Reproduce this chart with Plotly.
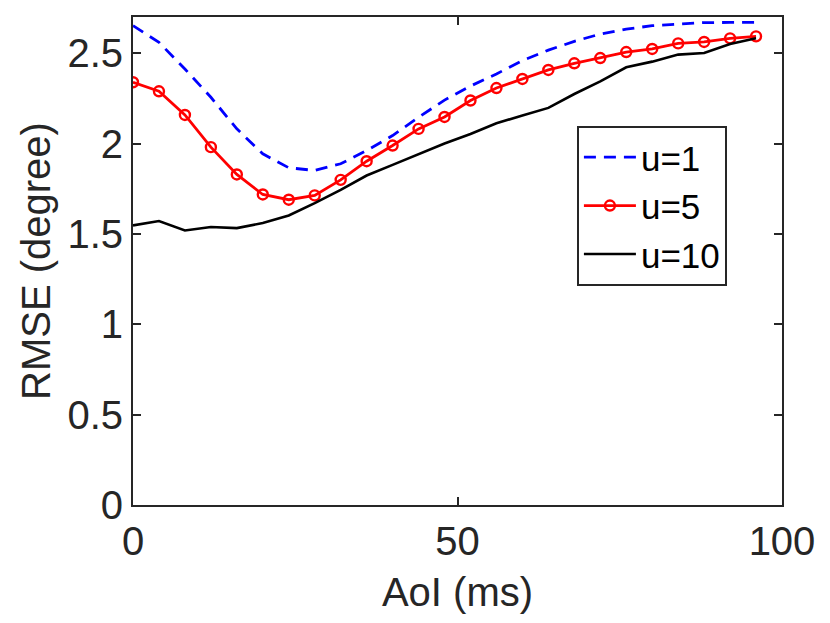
import plotly.graph_objects as go

# AoI sample points (ms)
aoi = [0, 4, 8, 12, 16, 20, 24, 28, 32, 36, 40, 44, 48,
       52, 56, 60, 64, 68, 72, 76, 80, 84, 88, 92, 96]

# RMSE (degree) per u value
rmse_u1 = [2.652, 2.560, 2.412, 2.256, 2.081, 1.943, 1.866, 1.851, 1.888,
           1.961, 2.044, 2.145, 2.240, 2.318, 2.385, 2.459, 2.517, 2.565,
           2.606, 2.633, 2.652, 2.661, 2.669, 2.670, 2.670]
rmse_u5 = [2.339, 2.289, 2.158, 1.980, 1.829, 1.718, 1.689, 1.713, 1.799,
           1.902, 1.989, 2.081, 2.147, 2.238, 2.307, 2.357, 2.407, 2.444,
           2.473, 2.506, 2.523, 2.554, 2.562, 2.582, 2.593]
rmse_u10 = [1.547, 1.571, 1.519, 1.538, 1.532, 1.560, 1.602, 1.670, 1.744,
            1.823, 1.882, 1.943, 2.000, 2.053, 2.112, 2.155, 2.197, 2.274,
            2.344, 2.422, 2.453, 2.492, 2.501, 2.551, 2.582]

font_family = "Liberation Sans, Arial, Helvetica, sans-serif"
axis_color = "#262626"

fig = go.Figure()

fig.add_trace(go.Scatter(
    x=aoi, y=rmse_u1, name="u=1", mode="lines",
    line=dict(color="#0000ff", width=2.8, dash="12px,8px"),
))
fig.add_trace(go.Scatter(
    x=aoi, y=rmse_u5, name="u=5", mode="lines+markers",
    line=dict(color="#ff0000", width=2.8),
    marker=dict(symbol="circle-open", size=10, color="#ff0000",
                line=dict(width=2.4, color="#ff0000")),
))
fig.add_trace(go.Scatter(
    x=aoi, y=rmse_u10, name="u=10", mode="lines",
    line=dict(color="#000000", width=2.6),
))

axis_common = dict(
    showgrid=False,
    zeroline=False,
    showline=True,
    linecolor=axis_color,
    linewidth=2,
    mirror="ticks",
    ticks="inside",
    ticklen=8,
    tickwidth=2,
    tickcolor=axis_color,
    tickfont=dict(size=40, color=axis_color, family=font_family),
)

fig.update_xaxes(
    range=[0, 100], tickvals=[0, 50, 100],
    title=dict(text="AoI (ms)", font=dict(size=40, color=axis_color, family=font_family),
               standoff=16),
    **axis_common,
)
fig.update_yaxes(
    range=[0, 2.7], tickvals=[0, 0.5, 1, 1.5, 2, 2.5],
    title=dict(text="RMSE (degree)", font=dict(size=40, color=axis_color, family=font_family),
               standoff=4),
    **axis_common,
)

# page body has an 8px margin, so the margins are shifted to compensate
fig.update_layout(
    width=830,
    height=623,
    margin=dict(l=125, r=56, t=7, b=126),
    paper_bgcolor="white",
    plot_bgcolor="white",
    font=dict(family=font_family, color="#000000"),
    legend=dict(
        x=0.684, y=0.777, xanchor="left", yanchor="top",
        bgcolor="white",
        bordercolor=axis_color, borderwidth=2,
        font=dict(size=35, color="#000000", family=font_family),
        tracegroupgap=0,
        itemwidth=52,
    ),
)

fig.write_html("out.html")
